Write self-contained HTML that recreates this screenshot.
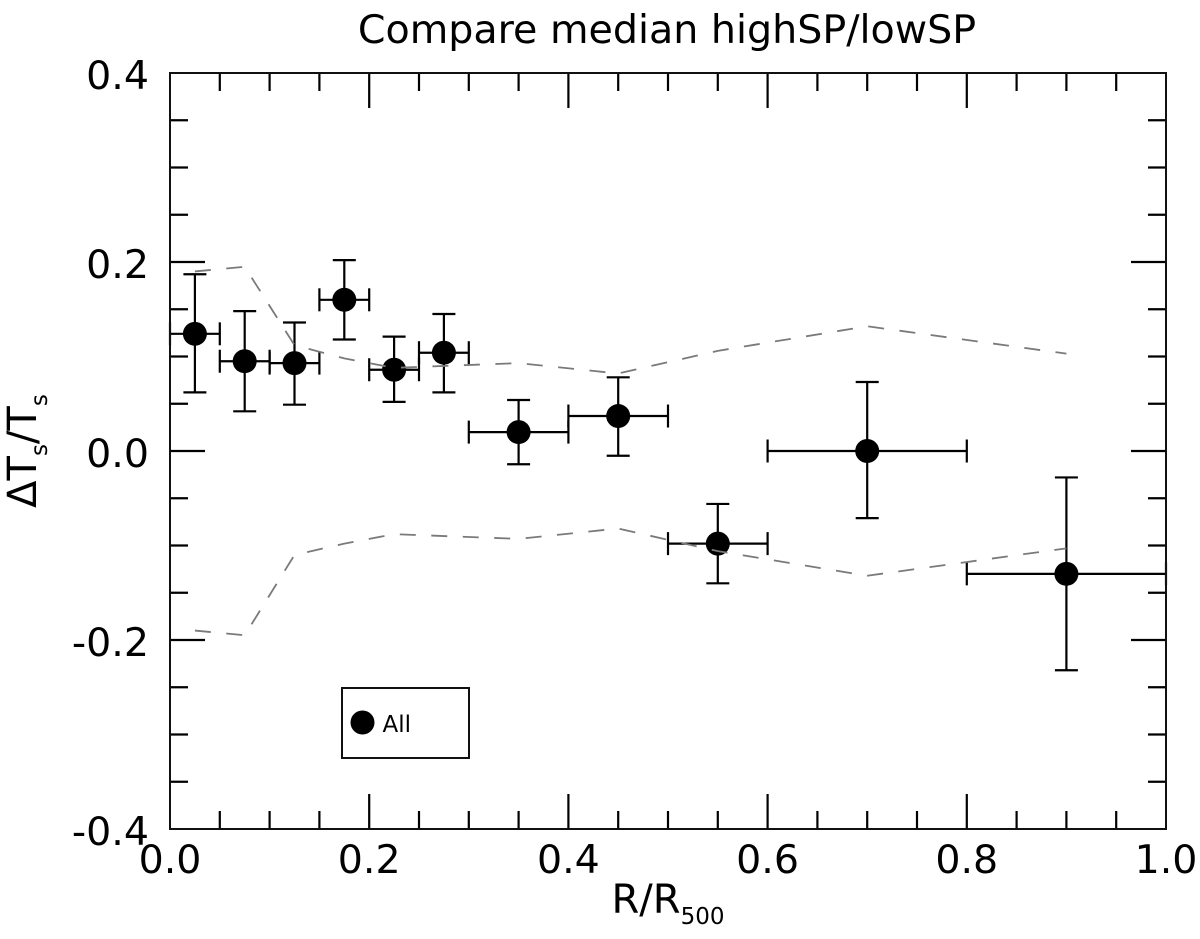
<!DOCTYPE html>
<html>
<head>
<meta charset="utf-8">
<style>
html,body{margin:0;padding:0;background:#fff;}
svg{display:block;}
text{font-family:"DejaVu Sans","Liberation Sans",sans-serif;fill:#000;}
</style>
</head>
<body>
<svg id="chart" xmlns="http://www.w3.org/2000/svg" width="1200" height="939" viewBox="0 0 1200 939">
<rect width="1200" height="939" fill="#fff"/>
<text x="667" y="43" font-size="39.600" text-anchor="middle">Compare median highSP/lowSP</text>
<text x="668" y="913" font-size="40" text-anchor="middle">R/R<tspan font-size="23" dy="11">500</tspan></text>
<text transform="translate(36,451) rotate(-90)" font-size="40" text-anchor="middle">ΔT<tspan font-size="23" dy="11">s</tspan><tspan dy="-11">/T</tspan><tspan font-size="23" dy="11">s</tspan></text>
<g id="layer-ticks"></g>
<g id="layer-errors"></g>
<g id="layer-points"></g>
<g id="layer-bands"></g>
<rect x="170" y="73" width="996" height="756" fill="none" stroke="#111" stroke-width="2"/>
<g>
<rect x="342" y="688" width="127" height="70" fill="#fff" stroke="#111" stroke-width="2"/>
<circle cx="362.500" cy="722.500" r="12" fill="#000"/>
<text x="382.500" y="732" font-size="23">All</text>
</g>
</svg>
<script>
const categories = [0.025, 0.075, 0.125, 0.175, 0.225, 0.275, 0.35, 0.45, 0.55, 0.7, 0.9];
const binHalfWidths = [0.025, 0.025, 0.025, 0.025, 0.025, 0.025, 0.05, 0.05, 0.05, 0.1, 0.1];
const seriesValues = [0.124, 0.095, 0.093, 0.16, 0.086, 0.104, 0.02, 0.037, -0.098, 0, -0.13];
const errorUpper = [0.187, 0.148, 0.136, 0.202, 0.121, 0.145, 0.054, 0.078, -0.056, 0.073, -0.028];
const errorLower = [0.062, 0.042, 0.049, 0.118, 0.052, 0.062, -0.014, -0.005, -0.14, -0.071, -0.232];
const bandUpper = [0.19, 0.195, 0.112, 0.098, 0.088, 0.09, 0.093, 0.082, 0.106, 0.132, 0.103];
const bandLower = [-0.19, -0.195, -0.11, -0.098, -0.088, -0.09, -0.093, -0.082, -0.106, -0.132, -0.103];
const xTickLabels = ["0.0", "0.2", "0.4", "0.6", "0.8", "1.0"];
const yTickLabels = ["-0.4", "-0.2", "0.0", "0.2", "0.4"];

const NS = 'http://www.w3.org/2000/svg';
const xScale = v => 170 + v * 996;
const yScale = v => 451 - v * 945;

function makeLine(parent, x1, y1, x2, y2, name) {
  const el = document.createElementNS(NS, 'line');
  el.setAttribute('x1', x1);
  el.setAttribute('y1', y1);
  el.setAttribute('x2', x2);
  el.setAttribute('y2', y2);
  el.setAttribute('stroke', '#000');
  el.setAttribute('stroke-width', '2.200');
  
  
  parent.appendChild(el);
}

const ticks = document.getElementById('layer-ticks');
for (let i = 1; i < 20; i++) {
  const x = xScale(i * 0.05);
  const len = i % 4 === 0 ? 35 : 18;
  makeLine(ticks, x, 829, x, 829 - len, 'x-tick');
  makeLine(ticks, x, 73, x, 73 + len, 'x-tick-top');
}
for (let i = 1; i < 16; i++) {
  const y = yScale(i * 0.05 - 0.4);
  const len = i % 4 === 0 ? 35 : 18;
  makeLine(ticks, 170, y, 170 + len, y, 'y-tick');
  makeLine(ticks, 1166, y, 1166 - len, y, 'y-tick-right');
}

xTickLabels.forEach(label => {
  const t = document.createElementNS(NS, 'text');
  t.setAttribute('x', xScale(parseFloat(label)));
  t.setAttribute('y', 873);
  t.setAttribute('font-size', '39.500');
  t.setAttribute('text-anchor', 'middle');
  
  
  t.textContent = label;
  ticks.appendChild(t);
});
yTickLabels.forEach(label => {
  const t = document.createElementNS(NS, 'text');
  t.setAttribute('x', 149);
  t.setAttribute('y', yScale(parseFloat(label)) + 16);
  t.setAttribute('font-size', '39.500');
  t.setAttribute('text-anchor', 'end');
  
  
  t.textContent = label;
  ticks.appendChild(t);
});

const errors = document.getElementById('layer-errors');
const points = document.getElementById('layer-points');
categories.forEach((c, i) => {
  const cx = xScale(c);
  const cy = yScale(seriesValues[i]);
  const xl = xScale(c - binHalfWidths[i]);
  const xr = xScale(c + binHalfWidths[i]);
  const yt = yScale(errorUpper[i]);
  const yb = yScale(errorLower[i]);
  makeLine(errors, xl, cy, xr, cy, 'x-error-bar');
  makeLine(errors, xl, cy - 11.500, xl, cy + 11.500, 'x-error-cap');
  makeLine(errors, xr, cy - 11.500, xr, cy + 11.500, 'x-error-cap');
  makeLine(errors, cx, yt, cx, yb, 'y-error-bar');
  makeLine(errors, cx - 11.500, yt, cx + 11.500, yt, 'y-error-cap');
  makeLine(errors, cx - 11.500, yb, cx + 11.500, yb, 'y-error-cap');
  const dot = document.createElementNS(NS, 'circle');
  dot.setAttribute('cx', cx);
  dot.setAttribute('cy', cy);
  dot.setAttribute('r', '12');
  dot.setAttribute('fill', '#000');
  
  
  points.appendChild(dot);
});

const bands = document.getElementById('layer-bands');
[bandUpper, bandLower].forEach((series, k) => {
  const path = document.createElementNS(NS, 'path');
  path.setAttribute('d', series.map((v, i) => (i ? 'L' : 'M') + xScale(categories[i]) + ' ' + yScale(v)).join(' '));
  path.setAttribute('fill', 'none');
  path.setAttribute('stroke', '#7a7a7a');
  path.setAttribute('stroke-width', '1.800');
  path.setAttribute('stroke-dasharray', '16 15.500');
  
  
  bands.appendChild(path);
});
</script>
</body>
</html>
